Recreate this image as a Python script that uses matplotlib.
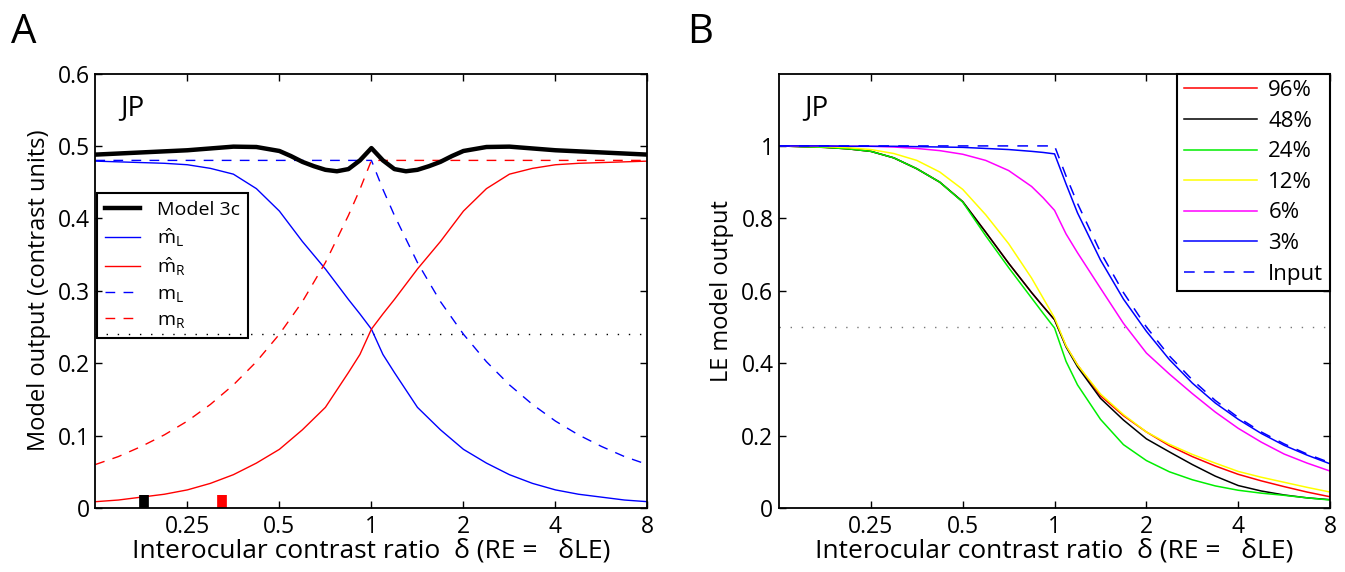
import numpy as np
import matplotlib
matplotlib.use("Agg")
import matplotlib.pyplot as plt

plt.rcParams['font.family'] = ['Open Sans', 'DejaVu Sans']
plt.rcParams['mathtext.default'] = 'regular'

# common grid, log2 of the contrast ratio
log2_delta = [-3.0, -2.75, -2.5, -2.25, -2.0, -1.75, -1.5, -1.25, -1.0, -0.75, -0.5, -0.25, -0.125, 0.0,
              0.125, 0.25, 0.5, 0.75, 1.0, 1.25, 1.5, 1.75, 2.0, 2.25, 2.5, 2.75, 3.0]

# panel A
m_hat_L = [0.479, 0.478, 0.477, 0.476, 0.474, 0.469, 0.461, 0.441, 0.41, 0.368, 0.330, 0.288, 0.268, 0.247,
           0.212, 0.187, 0.139, 0.108, 0.081, 0.062, 0.046, 0.034, 0.025, 0.019, 0.015, 0.011, 0.0087]
m_hat_R = [0.0087, 0.011, 0.015, 0.019, 0.025, 0.034, 0.046, 0.062, 0.081, 0.108, 0.139, 0.187, 0.212, 0.247,
           0.268, 0.288, 0.330, 0.368, 0.41, 0.441, 0.461, 0.469, 0.474, 0.476, 0.477, 0.478, 0.479]
m_L = [0.48, 0.48, 0.48, 0.48, 0.48, 0.48, 0.48, 0.48, 0.48, 0.48, 0.48, 0.48, 0.48, 0.48,
       0.44, 0.404, 0.339, 0.285, 0.24, 0.202, 0.17, 0.143, 0.12, 0.101, 0.085, 0.071, 0.06]
m_R = [0.06, 0.071, 0.085, 0.101, 0.12, 0.143, 0.17, 0.202, 0.24, 0.285, 0.339, 0.404, 0.44, 0.48,
       0.48, 0.48, 0.48, 0.48, 0.48, 0.48, 0.48, 0.48, 0.48, 0.48, 0.48, 0.48, 0.48]

model_log2 = [-3.0, -2.75, -2.5, -2.25, -2.0, -1.75, -1.5, -1.25, -1.0, -0.875, -0.75, -0.625, -0.5,
              -0.375, -0.25, -0.125, 0.0, 0.125, 0.25, 0.375, 0.5, 0.625, 0.75, 0.875, 1.0,
              1.25, 1.5, 1.75, 2.0, 2.25, 2.5, 2.75, 3.0]
model_3c = [0.488, 0.4895, 0.491, 0.4925, 0.494, 0.4965, 0.499, 0.4985, 0.493, 0.486, 0.478, 0.472, 0.467,
            0.465, 0.468, 0.480, 0.497, 0.480, 0.468, 0.465, 0.467, 0.472, 0.478, 0.486, 0.493,
            0.4985, 0.499, 0.4965, 0.494, 0.4925, 0.491, 0.4895, 0.488]

marker_delta = [0.18, 0.324]
marker_colors = ['k', 'r']
marker_height = 0.018

# panel B
b_labels = ['96%', '48%', '24%', '12%', '6%', '3%']
b_colors = ['#ff0000', '#000000', '#00ee00', '#ffff00', '#ff00ff', '#0000ff']
out_96 = [1.0, 0.998, 0.996, 0.992, 0.985, 0.967, 0.937, 0.9, 0.846, 0.762, 0.676, 0.595, 0.557, 0.52,
          0.447, 0.395, 0.31, 0.255, 0.21, 0.172, 0.142, 0.116, 0.093, 0.075, 0.059, 0.044, 0.031]
out_48 = [1.0, 0.998, 0.996, 0.992, 0.985, 0.967, 0.937, 0.9, 0.846, 0.762, 0.676, 0.595, 0.557, 0.52,
          0.445, 0.39, 0.303, 0.243, 0.191, 0.155, 0.12, 0.088, 0.062, 0.047, 0.036, 0.028, 0.023]
out_24 = [1.0, 0.998, 0.996, 0.992, 0.985, 0.967, 0.937, 0.9, 0.845, 0.752, 0.664, 0.58, 0.538, 0.497,
          0.405, 0.34, 0.245, 0.175, 0.131, 0.1, 0.078, 0.061, 0.049, 0.041, 0.035, 0.028, 0.022]
out_12 = [1.0, 0.999, 0.998, 0.995, 0.99, 0.979, 0.96, 0.928, 0.88, 0.81, 0.73, 0.635, 0.58, 0.525,
          0.448, 0.395, 0.315, 0.258, 0.21, 0.176, 0.148, 0.124, 0.101, 0.085, 0.071, 0.057, 0.044]
out_6 = [1.0, 1.0, 1.0, 0.999, 0.999, 0.997, 0.993, 0.987, 0.977, 0.96, 0.932, 0.888, 0.857, 0.822,
         0.757, 0.705, 0.607, 0.51, 0.428, 0.37, 0.316, 0.265, 0.22, 0.182, 0.149, 0.124, 0.102]
out_3 = [1.0, 1.0, 1.0, 0.999, 0.999, 0.999, 0.998, 0.997, 0.996, 0.993, 0.99, 0.985, 0.982, 0.978,
         0.895, 0.815, 0.685, 0.577, 0.488, 0.41, 0.345, 0.29, 0.245, 0.206, 0.173, 0.146, 0.122]
input_le = [1.0, 1.0, 1.0, 1.0, 1.0, 1.0, 1.0, 1.0, 1.0, 1.0, 1.0, 1.0, 1.0, 1.0,
            0.917, 0.841, 0.707, 0.595, 0.5, 0.42, 0.354, 0.297, 0.25, 0.21, 0.177, 0.149, 0.125]

tick_vals = [0.25, 0.5, 1, 2, 4, 8]
tick_labels = ['0.25', '0.5', '1', '2', '4', '8']
xlabel = 'Interocular contrast ratio  δ (RE =   δLE)'

delta = 2.0 ** np.array(log2_delta)
delta_model = 2.0 ** np.array(model_log2)


def style_axis(ax):
    ax.set_xscale('log', base=2)
    ax.set_xlim(0.125, 8)
    ax.set_xticks(tick_vals)
    ax.set_xticklabels(tick_labels)
    ax.minorticks_off()
    ax.tick_params(direction='in', top=True, right=True, length=5, width=1,
                   labelsize=16.5, pad=4)
    ax.tick_params(axis='x', pad=5)
    for s in ax.spines.values():
        s.set_linewidth(1.3)
    ax.set_xlabel(xlabel, fontsize=19, labelpad=0)


fig = plt.figure(figsize=(13.45, 5.72), dpi=100)
axA = fig.add_axes([0.0709, 0.1119, 0.4105, 0.7596])
axB = fig.add_axes([0.5792, 0.1119, 0.4097, 0.7596])

# ---- A
dash = (0, (7, 6))
axA.plot(delta, [0.24] * len(delta), color='k', lw=1, linestyle=(0, (1, 7)))
axA.plot(delta_model, model_3c, color='k', lw=3.2, label='Model 3c', zorder=5)
axA.plot(delta, m_hat_L, color='#0000ff', lw=1, label=r'$\hat{m}_L$')
axA.plot(delta, m_hat_R, color='#ff0000', lw=1, label=r'$\hat{m}_R$')
axA.plot(delta, m_L, color='#0000ff', lw=1, linestyle=dash, label=r'$m_L$')
axA.plot(delta, m_R, color='#ff0000', lw=1, linestyle=dash, label=r'$m_R$')
for xd, c in zip(marker_delta, marker_colors):
    axA.plot([xd, xd], [0, marker_height], color=c, lw=7, solid_capstyle='butt')

style_axis(axA)
axA.set_ylim(0, 0.6)
axA.set_yticks([0, 0.1, 0.2, 0.3, 0.4, 0.5, 0.6])
axA.set_yticklabels(['0', '0.1', '0.2', '0.3', '0.4', '0.5', '0.6'])
axA.set_ylabel('Model output (contrast units)', fontsize=17, labelpad=5)
axA.text(0.045, 0.92, 'JP', transform=axA.transAxes, fontsize=20, va='center')
legA = axA.legend(loc='upper left', bbox_to_anchor=(0.003, 0.724), fontsize=14,
                  handlelength=1.8, handletextpad=0.9, labelspacing=0.36,
                  borderpad=0.4, borderaxespad=0, fancybox=False, edgecolor='k',
                  facecolor='none', framealpha=1)
legA.get_frame().set_linewidth(1.5)

# ---- B
axB.plot(delta, [0.5] * len(delta), color='#777777', lw=1, linestyle=(0, (1, 7)))
for vals, lab, c in zip([out_96, out_48, out_24, out_12, out_6, out_3], b_labels, b_colors):
    axB.plot(delta, vals, color=c, lw=1.1, label=lab)
axB.plot(delta, input_le, color='#0000ff', lw=1.1, linestyle=dash, label='Input')

style_axis(axB)
axB.set_ylim(0, 1.2)
axB.set_yticks([0, 0.2, 0.4, 0.6, 0.8, 1.0])
axB.set_yticklabels(['0', '0.2', '0.4', '0.6', '0.8', '1'])
axB.set_ylabel('LE model output', fontsize=17, labelpad=5)
axB.text(0.045, 0.92, 'JP', transform=axB.transAxes, fontsize=20, va='center')
legB = axB.legend(loc='upper right', bbox_to_anchor=(1.0, 1.0), fontsize=16,
                  handlelength=3.3, handletextpad=0.5, labelspacing=0.43,
                  borderpad=0.3, borderaxespad=0, fancybox=False, edgecolor='k',
                  facecolor='white', framealpha=1)
legB.get_frame().set_linewidth(1.5)

fig.text(0.008, 0.979, 'A', fontsize=29, va='top', ha='left')
fig.text(0.511, 0.979, 'B', fontsize=29, va='top', ha='left')

fig.savefig('out.png', dpi=100)
